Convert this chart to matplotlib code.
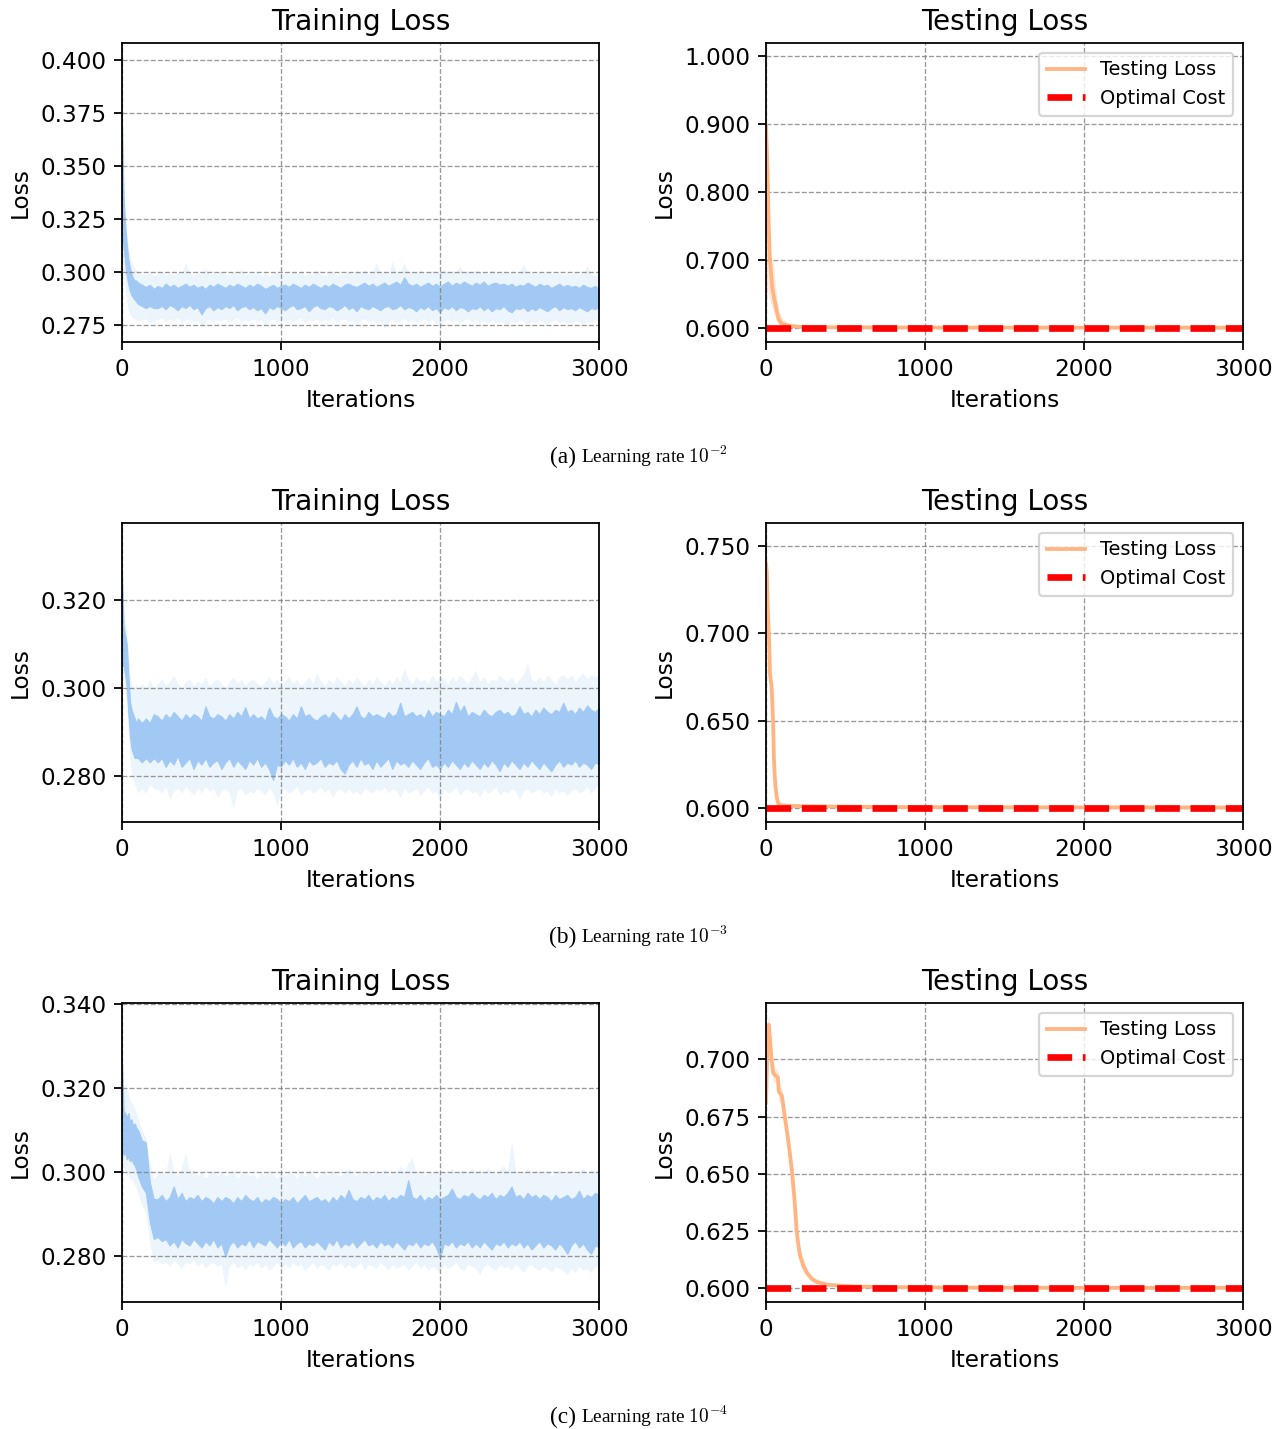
import matplotlib
matplotlib.use("Agg")
import matplotlib.pyplot as plt
from matplotlib.ticker import FormatStrFormatter

plt.rcParams["mathtext.fontset"] = "cm"
plt.rcParams["font.size"] = 10.4

# ---------------------------------------------------------------- data
# iteration grid for the training-loss envelopes
TRAIN_X = [0, 10, 20, 30, 40, 50, 60, 70, 80, 90, 100, 125, 150, 175, 200] + list(range(225, 3001, 25))

# --- learning rate 1e-2 : training loss (inner band = running loss, outer band = spread)
train_a_dark_lo = [0.318, 0.312, 0.304, 0.298, 0.294, 0.291, 0.289, 0.288, 0.287, 0.286, 0.285, 0.284, 0.283, 0.284, 0.283,
    0.2830, 0.2840, 0.2825, 0.2845, 0.2835, 0.2820, 0.2840, 0.2830,
    0.2845, 0.2825, 0.2835, 0.2800, 0.2830, 0.2840, 0.2820, 0.2835,
    0.2825, 0.2840, 0.2830, 0.2845, 0.2820, 0.2835, 0.2840, 0.2825,
    0.2835, 0.2820, 0.2830, 0.2805, 0.2835, 0.2825, 0.2840, 0.2830,
    0.2820, 0.2835, 0.2845, 0.2825, 0.2830, 0.2840, 0.2815, 0.2835,
    0.2845, 0.2830, 0.2825, 0.2840, 0.2835, 0.2820, 0.2830, 0.2845,
    0.2825, 0.2835, 0.2815, 0.2840, 0.2830, 0.2825, 0.2840, 0.2830,
    0.2820, 0.2835, 0.2840, 0.2825, 0.2830, 0.2845, 0.2825, 0.2835,
    0.2830, 0.2815, 0.2835, 0.2825, 0.2840, 0.2820, 0.2830, 0.2810,
    0.2835, 0.2825, 0.2840, 0.2820, 0.2835, 0.2830, 0.2815, 0.2830,
    0.2825, 0.2840, 0.2820, 0.2835, 0.2815, 0.2830, 0.2825, 0.2840,
    0.2820, 0.2810, 0.2830, 0.2825, 0.2835, 0.2815, 0.2830, 0.2820,
    0.2835, 0.2825, 0.2815, 0.2830, 0.2840, 0.2820, 0.2835, 0.2825,
    0.2830, 0.2820, 0.2835, 0.2825, 0.2815, 0.2830, 0.2825, 0.2835]
train_a_dark_hi = [0.370, 0.336, 0.322, 0.313, 0.306, 0.302, 0.299, 0.297, 0.296, 0.296, 0.295, 0.294, 0.293, 0.294, 0.292,
    0.2935, 0.2925, 0.2945, 0.2930, 0.2940, 0.2925, 0.2935, 0.2945,
    0.2930, 0.2940, 0.2925, 0.2935, 0.2920, 0.2940, 0.2930, 0.2945,
    0.2935, 0.2925, 0.2940, 0.2930, 0.2945, 0.2935, 0.2925, 0.2940,
    0.2930, 0.2945, 0.2935, 0.2920, 0.2930, 0.2940, 0.2925, 0.2935,
    0.2940, 0.2930, 0.2945, 0.2935, 0.2925, 0.2940, 0.2930, 0.2945,
    0.2935, 0.2925, 0.2940, 0.2930, 0.2945, 0.2935, 0.2925, 0.2940,
    0.2945, 0.2935, 0.2930, 0.2940, 0.2950, 0.2935, 0.2945, 0.2930,
    0.2940, 0.2950, 0.2935, 0.2945, 0.2955, 0.2940, 0.2975, 0.2945,
    0.2935, 0.2945, 0.2930, 0.2940, 0.2950, 0.2935, 0.2945, 0.2930,
    0.2945, 0.2955, 0.2935, 0.2950, 0.2940, 0.2955, 0.2945, 0.2935,
    0.2950, 0.2940, 0.2955, 0.2935, 0.2945, 0.2950, 0.2940, 0.2945,
    0.2935, 0.2945, 0.2930, 0.2940, 0.2935, 0.2950, 0.2940, 0.2930,
    0.2945, 0.2935, 0.2940, 0.2925, 0.2935, 0.2945, 0.2930, 0.2940,
    0.2930, 0.2935, 0.2925, 0.2940, 0.2930, 0.2925, 0.2935, 0.2920]
train_a_light_lo = [0.312, 0.300, 0.292, 0.286, 0.282, 0.280, 0.279, 0.278, 0.278, 0.277, 0.277, 0.277, 0.278, 0.276, 0.277,
    0.2775, 0.2785, 0.2765, 0.2780, 0.2770, 0.2785, 0.2760, 0.2775,
    0.2780, 0.2765, 0.2775, 0.2745, 0.2770, 0.2780, 0.2765, 0.2775,
    0.2770, 0.2780, 0.2760, 0.2775, 0.2785, 0.2765, 0.2775, 0.2770,
    0.2780, 0.2765, 0.2775, 0.2750, 0.2770, 0.2780, 0.2765, 0.2775,
    0.2770, 0.2780, 0.2765, 0.2775, 0.2785, 0.2760, 0.2775, 0.2770,
    0.2780, 0.2765, 0.2775, 0.2770, 0.2785, 0.2760, 0.2775, 0.2780,
    0.2765, 0.2775, 0.2755, 0.2770, 0.2780, 0.2765, 0.2775, 0.2760,
    0.2770, 0.2735, 0.2765, 0.2775, 0.2760, 0.2770, 0.2780, 0.2765,
    0.2775, 0.2760, 0.2770, 0.2780, 0.2765, 0.2775, 0.2760, 0.2755,
    0.2770, 0.2780, 0.2765, 0.2775, 0.2760, 0.2770, 0.2780, 0.2765,
    0.2775, 0.2760, 0.2770, 0.2755, 0.2775, 0.2765, 0.2770, 0.2760,
    0.2750, 0.2770, 0.2760, 0.2775, 0.2765, 0.2755, 0.2770, 0.2760,
    0.2775, 0.2765, 0.2755, 0.2770, 0.2775, 0.2760, 0.2770, 0.2765,
    0.2760, 0.2770, 0.2765, 0.2755, 0.2770, 0.2760, 0.2775, 0.2765]
train_a_light_hi = [0.372, 0.342, 0.328, 0.319, 0.312, 0.308, 0.305, 0.303, 0.302, 0.301, 0.300, 0.299, 0.299, 0.300, 0.298,
    0.2990, 0.3005, 0.2985, 0.2995, 0.2985, 0.3000, 0.2990, 0.3045,
    0.2995, 0.2985, 0.3000, 0.2990, 0.3020, 0.2985, 0.2995, 0.2990,
    0.3005, 0.2990, 0.2985, 0.3000, 0.2990, 0.3015, 0.2985, 0.2995,
    0.2990, 0.3000, 0.2985, 0.2995, 0.2980, 0.2995, 0.3000, 0.2985,
    0.2995, 0.2985, 0.3000, 0.2990, 0.3005, 0.2985, 0.2995, 0.2990,
    0.3010, 0.2990, 0.2985, 0.2995, 0.3000, 0.2985, 0.2995, 0.2990,
    0.3000, 0.2990, 0.3005, 0.2995, 0.3010, 0.2990, 0.3000, 0.3045,
    0.2995, 0.3005, 0.2990, 0.3050, 0.3000, 0.2995, 0.3045, 0.3000,
    0.3005, 0.2995, 0.3010, 0.2990, 0.3000, 0.3005, 0.2995, 0.3000,
    0.3015, 0.2995, 0.3005, 0.3000, 0.3030, 0.2995, 0.3005, 0.3000,
    0.3010, 0.2995, 0.3005, 0.2990, 0.3010, 0.3000, 0.2995, 0.3005,
    0.2995, 0.3005, 0.2990, 0.3000, 0.3040, 0.2995, 0.3000, 0.2990,
    0.3000, 0.2990, 0.3005, 0.2995, 0.2990, 0.3000, 0.2985, 0.2995,
    0.2990, 0.3000, 0.2985, 0.2995, 0.3030, 0.2990, 0.2985, 0.2995]

# --- learning rate 1e-3 : training loss
train_b_dark_lo = [0.305, 0.305, 0.303, 0.300, 0.294, 0.289, 0.286, 0.285, 0.284, 0.284, 0.284, 0.283, 0.284, 0.283, 0.284,
    0.2830, 0.2840, 0.2820, 0.2835, 0.2825, 0.2845, 0.2820, 0.2830,
    0.2840, 0.2815, 0.2835, 0.2825, 0.2840, 0.2820, 0.2830, 0.2835,
    0.2815, 0.2830, 0.2840, 0.2820, 0.2835, 0.2825, 0.2815, 0.2835,
    0.2825, 0.2840, 0.2820, 0.2830, 0.2815, 0.2790, 0.2825, 0.2820,
    0.2835, 0.2825, 0.2840, 0.2820, 0.2830, 0.2815, 0.2835, 0.2825,
    0.2830, 0.2840, 0.2820, 0.2830, 0.2825, 0.2835, 0.2815, 0.2805,
    0.2825, 0.2835, 0.2820, 0.2840, 0.2825, 0.2830, 0.2815, 0.2835,
    0.2820, 0.2830, 0.2840, 0.2815, 0.2835, 0.2825, 0.2830, 0.2820,
    0.2835, 0.2825, 0.2815, 0.2830, 0.2840, 0.2820, 0.2825, 0.2815,
    0.2830, 0.2820, 0.2835, 0.2825, 0.2815, 0.2830, 0.2820, 0.2835,
    0.2825, 0.2815, 0.2830, 0.2820, 0.2835, 0.2825, 0.2810, 0.2830,
    0.2820, 0.2835, 0.2825, 0.2815, 0.2830, 0.2820, 0.2835, 0.2825,
    0.2815, 0.2830, 0.2820, 0.2810, 0.2825, 0.2835, 0.2820, 0.2830,
    0.2825, 0.2835, 0.2820, 0.2830, 0.2825, 0.2815, 0.2830, 0.2825]
train_b_dark_hi = [0.326, 0.314, 0.312, 0.310, 0.303, 0.297, 0.295, 0.294, 0.293, 0.292, 0.293, 0.292, 0.293, 0.292, 0.294,
    0.2935, 0.2925, 0.2940, 0.2930, 0.2945, 0.2935, 0.2925, 0.2940,
    0.2930, 0.2940, 0.2935, 0.2925, 0.2958, 0.2935, 0.2930, 0.2940,
    0.2935, 0.2925, 0.2940, 0.2930, 0.2945, 0.2935, 0.2956, 0.2930,
    0.2940, 0.2930, 0.2935, 0.2925, 0.2955, 0.2935, 0.2930, 0.2940,
    0.2935, 0.2925, 0.2940, 0.2930, 0.2958, 0.2935, 0.2940, 0.2930,
    0.2925, 0.2935, 0.2940, 0.2930, 0.2945, 0.2935, 0.2925, 0.2940,
    0.2930, 0.2940, 0.2958, 0.2935, 0.2930, 0.2945, 0.2935, 0.2940,
    0.2935, 0.2930, 0.2945, 0.2935, 0.2940, 0.2966, 0.2935, 0.2940,
    0.2945, 0.2935, 0.2940, 0.2930, 0.2950, 0.2935, 0.2945, 0.2940,
    0.2935, 0.2950, 0.2940, 0.2968, 0.2945, 0.2960, 0.2935, 0.2945,
    0.2940, 0.2935, 0.2950, 0.2940, 0.2935, 0.2945, 0.2950, 0.2940,
    0.2945, 0.2935, 0.2940, 0.2958, 0.2940, 0.2945, 0.2935, 0.2950,
    0.2940, 0.2955, 0.2945, 0.2940, 0.2950, 0.2945, 0.2966, 0.2945,
    0.2950, 0.2940, 0.2955, 0.2945, 0.2960, 0.2950, 0.2945, 0.2955]
train_b_light_lo = [0.303, 0.302, 0.299, 0.296, 0.290, 0.284, 0.280, 0.279, 0.278, 0.277, 0.276, 0.277, 0.276, 0.278, 0.277,
    0.2770, 0.2760, 0.2775, 0.2745, 0.2765, 0.2770, 0.2760, 0.2775,
    0.2765, 0.2755, 0.2770, 0.2760, 0.2775, 0.2765, 0.2770, 0.2750,
    0.2765, 0.2770, 0.2760, 0.2725, 0.2765, 0.2770, 0.2755, 0.2765,
    0.2760, 0.2770, 0.2765, 0.2755, 0.2770, 0.2760, 0.2730, 0.2765,
    0.2770, 0.2760, 0.2765, 0.2775, 0.2755, 0.2765, 0.2770, 0.2760,
    0.2765, 0.2775, 0.2760, 0.2770, 0.2750, 0.2765, 0.2770, 0.2760,
    0.2770, 0.2760, 0.2765, 0.2755, 0.2770, 0.2765, 0.2760, 0.2770,
    0.2765, 0.2775, 0.2760, 0.2770, 0.2765, 0.2750, 0.2770, 0.2760,
    0.2765, 0.2770, 0.2755, 0.2765, 0.2775, 0.2760, 0.2765, 0.2745,
    0.2770, 0.2760, 0.2765, 0.2775, 0.2755, 0.2765, 0.2770, 0.2760,
    0.2765, 0.2750, 0.2770, 0.2760, 0.2765, 0.2775, 0.2755, 0.2765,
    0.2760, 0.2770, 0.2765, 0.2745, 0.2765, 0.2770, 0.2760, 0.2765,
    0.2770, 0.2760, 0.2765, 0.2750, 0.2770, 0.2760, 0.2765, 0.2755,
    0.2765, 0.2770, 0.2760, 0.2765, 0.2775, 0.2760, 0.2770, 0.2780]
train_b_light_hi = [0.327, 0.318, 0.315, 0.313, 0.308, 0.303, 0.301, 0.300, 0.300, 0.301, 0.300, 0.301, 0.300, 0.302, 0.300,
    0.3010, 0.3020, 0.3005, 0.3015, 0.3030, 0.3010, 0.3000, 0.3015,
    0.3020, 0.3005, 0.3015, 0.3010, 0.3025, 0.3005, 0.3015, 0.3020,
    0.3010, 0.3000, 0.3015, 0.3025, 0.3010, 0.3020, 0.3005, 0.3015,
    0.3020, 0.3010, 0.3005, 0.3015, 0.3025, 0.3010, 0.3020, 0.3005,
    0.3015, 0.3025, 0.3010, 0.3020, 0.3005, 0.3015, 0.3025, 0.3010,
    0.3035, 0.3015, 0.3005, 0.3020, 0.3010, 0.3025, 0.3015, 0.3005,
    0.3020, 0.3010, 0.3025, 0.3015, 0.3005, 0.3020, 0.3010, 0.3025,
    0.3015, 0.3005, 0.3020, 0.3010, 0.3025, 0.3015, 0.3045, 0.3020,
    0.3010, 0.3025, 0.3015, 0.3020, 0.3010, 0.3030, 0.3015, 0.3025,
    0.3020, 0.3010, 0.3025, 0.3015, 0.3030, 0.3020, 0.3010, 0.3025,
    0.3040, 0.3015, 0.3025, 0.3010, 0.3020, 0.3015, 0.3030, 0.3020,
    0.3015, 0.3025, 0.3010, 0.3020, 0.3030, 0.3057, 0.3020, 0.3015,
    0.3025, 0.3015, 0.3030, 0.3020, 0.3010, 0.3025, 0.3030, 0.3020,
    0.3030, 0.3015, 0.3025, 0.3035, 0.3020, 0.3030, 0.3025, 0.3030]

# --- learning rate 1e-4 : training loss
train_c_dark_lo = [0.3050, 0.3040, 0.3045, 0.3030, 0.3035, 0.3025, 0.3030, 0.3020, 0.3015, 0.3005, 0.2990, 0.2965, 0.2950, 0.2880, 0.2840,
    0.2845, 0.2835, 0.2840, 0.2825, 0.2835, 0.2820, 0.2840, 0.2830,
    0.2825, 0.2840, 0.2830, 0.2820, 0.2835, 0.2825, 0.2840, 0.2820,
    0.2830, 0.2798, 0.2825, 0.2835, 0.2820, 0.2830, 0.2825, 0.2840,
    0.2820, 0.2835, 0.2830, 0.2825, 0.2840, 0.2830, 0.2820, 0.2835,
    0.2825, 0.2840, 0.2820, 0.2830, 0.2835, 0.2820, 0.2830, 0.2825,
    0.2835, 0.2825, 0.2815, 0.2835, 0.2825, 0.2840, 0.2820, 0.2830,
    0.2825, 0.2835, 0.2820, 0.2830, 0.2840, 0.2825, 0.2830, 0.2820,
    0.2835, 0.2825, 0.2830, 0.2820, 0.2835, 0.2825, 0.2815, 0.2830,
    0.2825, 0.2835, 0.2820, 0.2830, 0.2825, 0.2835, 0.2820, 0.2794,
    0.2830, 0.2825, 0.2835, 0.2820, 0.2830, 0.2825, 0.2835, 0.2820,
    0.2830, 0.2820, 0.2835, 0.2825, 0.2815, 0.2830, 0.2825, 0.2835,
    0.2820, 0.2830, 0.2825, 0.2835, 0.2820, 0.2830, 0.2815, 0.2825,
    0.2835, 0.2820, 0.2830, 0.2825, 0.2815, 0.2830, 0.2820, 0.2805,
    0.2825, 0.2835, 0.2820, 0.2830, 0.2815, 0.2805, 0.2825, 0.2820]
train_c_dark_hi = [0.3265, 0.3145, 0.3140, 0.3130, 0.3140, 0.3120, 0.3125, 0.3110, 0.3115, 0.3105, 0.3100, 0.3075, 0.3070, 0.2975, 0.2935,
    0.2935, 0.2945, 0.2930, 0.2940, 0.2965, 0.2935, 0.2950, 0.2930,
    0.2940, 0.2935, 0.2945, 0.2930, 0.2940, 0.2935, 0.2925, 0.2940,
    0.2930, 0.2940, 0.2935, 0.2925, 0.2940, 0.2930, 0.2945, 0.2935,
    0.2930, 0.2940, 0.2925, 0.2935, 0.2930, 0.2940, 0.2935, 0.2925,
    0.2935, 0.2930, 0.2940, 0.2925, 0.2935, 0.2945, 0.2930, 0.2935,
    0.2940, 0.2930, 0.2935, 0.2925, 0.2940, 0.2930, 0.2945, 0.2935,
    0.2957, 0.2935, 0.2930, 0.2940, 0.2935, 0.2945, 0.2930, 0.2940,
    0.2935, 0.2945, 0.2930, 0.2940, 0.2935, 0.2945, 0.2940, 0.2980,
    0.2940, 0.2935, 0.2945, 0.2930, 0.2940, 0.2935, 0.2945, 0.2935,
    0.2940, 0.2945, 0.2960, 0.2940, 0.2935, 0.2945, 0.2940, 0.2950,
    0.2940, 0.2935, 0.2945, 0.2940, 0.2950, 0.2935, 0.2945, 0.2940,
    0.2950, 0.2965, 0.2940, 0.2945, 0.2935, 0.2950, 0.2940, 0.2945,
    0.2935, 0.2945, 0.2940, 0.2930, 0.2945, 0.2935, 0.2940, 0.2945,
    0.2935, 0.2940, 0.2955, 0.2935, 0.2945, 0.2940, 0.2950, 0.2945]
train_c_light_lo = [0.3020, 0.3010, 0.3000, 0.2990, 0.2995, 0.2980, 0.2985, 0.2975, 0.2970, 0.2960, 0.2950, 0.2920, 0.2900, 0.2830, 0.2785,
    0.2790, 0.2780, 0.2785, 0.2775, 0.2790, 0.2780, 0.2770, 0.2785,
    0.2780, 0.2790, 0.2775, 0.2785, 0.2770, 0.2780, 0.2785, 0.2775,
    0.2780, 0.2723, 0.2775, 0.2785, 0.2770, 0.2780, 0.2765, 0.2780,
    0.2775, 0.2785, 0.2770, 0.2780, 0.2765, 0.2775, 0.2785, 0.2770,
    0.2780, 0.2770, 0.2785, 0.2775, 0.2780, 0.2765, 0.2775, 0.2785,
    0.2770, 0.2780, 0.2775, 0.2765, 0.2780, 0.2775, 0.2785, 0.2770,
    0.2780, 0.2770, 0.2775, 0.2785, 0.2765, 0.2780, 0.2775, 0.2770,
    0.2785, 0.2775, 0.2765, 0.2780, 0.2770, 0.2775, 0.2780, 0.2765,
    0.2775, 0.2785, 0.2770, 0.2780, 0.2765, 0.2775, 0.2770, 0.2760,
    0.2780, 0.2770, 0.2775, 0.2785, 0.2770, 0.2765, 0.2780, 0.2775,
    0.2770, 0.2755, 0.2775, 0.2780, 0.2770, 0.2765, 0.2780, 0.2770,
    0.2775, 0.2765, 0.2780, 0.2770, 0.2760, 0.2775, 0.2780, 0.2770,
    0.2765, 0.2775, 0.2770, 0.2760, 0.2775, 0.2770, 0.2765, 0.2755,
    0.2770, 0.2760, 0.2775, 0.2765, 0.2770, 0.2760, 0.2775, 0.2770]
train_c_light_hi = [0.3270, 0.3200, 0.3210, 0.3195, 0.3185, 0.3170, 0.3165, 0.3160, 0.3150, 0.3140, 0.3130, 0.3100, 0.3080, 0.3020, 0.2985,
    0.2995, 0.3005, 0.2990, 0.3050, 0.3000, 0.2990, 0.3010, 0.3045,
    0.2995, 0.3005, 0.2990, 0.3000, 0.2985, 0.2995, 0.3005, 0.2990,
    0.3000, 0.2990, 0.2995, 0.3005, 0.2985, 0.2995, 0.3000, 0.2990,
    0.2995, 0.2985, 0.3000, 0.2990, 0.3005, 0.2995, 0.2985, 0.3000,
    0.2990, 0.3000, 0.2995, 0.2985, 0.3000, 0.2990, 0.3005, 0.2995,
    0.2985, 0.2995, 0.3000, 0.2990, 0.3005, 0.2995, 0.2990, 0.3000,
    0.3010, 0.2995, 0.2990, 0.3000, 0.2995, 0.3005, 0.2990, 0.3000,
    0.2995, 0.3010, 0.2990, 0.3000, 0.2995, 0.3015, 0.3000, 0.3020,
    0.3035, 0.2995, 0.3005, 0.2990, 0.3000, 0.2995, 0.3005, 0.2995,
    0.3000, 0.2995, 0.3010, 0.2995, 0.3000, 0.3005, 0.2995, 0.3010,
    0.3000, 0.3005, 0.2995, 0.3010, 0.3000, 0.2995, 0.3005, 0.3015,
    0.3000, 0.3075, 0.3005, 0.2995, 0.3000, 0.3010, 0.2995, 0.3005,
    0.3000, 0.2995, 0.3005, 0.2990, 0.3000, 0.3005, 0.2995, 0.3000,
    0.3005, 0.2995, 0.3000, 0.3010, 0.2995, 0.3005, 0.3000, 0.3005]

# --- testing loss curves (mean and spread band)
test_a_x = [0, 5, 10, 15, 20, 25, 30, 40, 50, 60, 70, 80, 100, 120, 150, 200, 300, 500, 1000, 2000, 3000]
test_a_y = [0.897, 0.860, 0.827, 0.770, 0.729, 0.700, 0.685, 0.658, 0.645, 0.634, 0.622, 0.612, 0.606, 0.604, 0.603,
            0.6015, 0.6010, 0.6006, 0.6003, 0.6002, 0.6002]
test_a_lo = [0.620, 0.640, 0.660, 0.650, 0.645, 0.640, 0.635, 0.628, 0.622, 0.615, 0.610, 0.605, 0.602, 0.6010, 0.6008,
             0.6005, 0.6003, 0.6002, 0.6001, 0.6001, 0.6001]
test_a_hi = [0.900, 0.880, 0.850, 0.800, 0.760, 0.720, 0.705, 0.700, 0.690, 0.660, 0.640, 0.625, 0.615, 0.610, 0.606,
             0.6030, 0.6015, 0.6010, 0.6005, 0.6003, 0.6003]

test_b_x = [0, 5, 10, 15, 20, 25, 30, 35, 40, 45, 50, 55, 60, 70, 80, 100, 150, 300, 500, 1000, 2000, 3000]
test_b_y = [0.740, 0.735, 0.718, 0.705, 0.695, 0.677, 0.673, 0.670, 0.660, 0.648, 0.628, 0.618, 0.612, 0.605, 0.602,
            0.6015, 0.6012, 0.6010, 0.6008, 0.6005, 0.6004, 0.6003]
test_b_lo = [0.736, 0.730, 0.713, 0.700, 0.690, 0.672, 0.669, 0.665, 0.654, 0.642, 0.623, 0.614, 0.609, 0.603, 0.601,
             0.6008, 0.6005, 0.6004, 0.6004, 0.6003, 0.6003, 0.6002]
test_b_hi = [0.742, 0.738, 0.722, 0.709, 0.699, 0.681, 0.677, 0.674, 0.665, 0.653, 0.633, 0.622, 0.615, 0.607, 0.6035,
             0.6025, 0.6020, 0.6015, 0.6010, 0.6007, 0.6005, 0.6004]

test_c_x = [0, 10, 18, 25, 35, 45, 60, 75, 80, 100, 110, 120, 135, 150, 165, 180, 193, 205, 216, 237, 260, 290, 320,
            390, 550, 800, 1200, 2000, 3000]
test_c_y = [0.681, 0.708, 0.715, 0.709, 0.700, 0.694, 0.693, 0.692, 0.686, 0.684, 0.679, 0.674, 0.667, 0.659, 0.650,
            0.638, 0.625, 0.618, 0.6138, 0.6095, 0.6065, 0.6040, 0.6028, 0.6015, 0.6008, 0.6005, 0.6003, 0.6002, 0.6002]
test_c_lo = [0.672, 0.700, 0.710, 0.704, 0.696, 0.690, 0.690, 0.689, 0.682, 0.680, 0.675, 0.670, 0.663, 0.655, 0.646,
             0.634, 0.621, 0.614, 0.610, 0.607, 0.605, 0.603, 0.602, 0.601, 0.6005, 0.6003, 0.6002, 0.6001, 0.6001]
test_c_hi = [0.690, 0.716, 0.719, 0.714, 0.704, 0.698, 0.696, 0.695, 0.690, 0.687, 0.683, 0.678, 0.671, 0.663, 0.654,
             0.642, 0.629, 0.622, 0.617, 0.612, 0.608, 0.605, 0.6035, 0.602, 0.6011, 0.6007, 0.6004, 0.6003, 0.6003]

OPTIMAL_COST = [0.6, 0.6, 0.6]
CAPTION_TAGS = ["(a)", "(b)", "(c)"]
CAPTION_TEXTS = ["Learning rate $10^{-2}$", "Learning rate $10^{-3}$", "Learning rate $10^{-4}$"]

# axis ranges and tick positions per row
TRAIN_YLIM = [(0.267, 0.408), (0.2694, 0.3376), (0.269, 0.3402)]
TRAIN_TICKS = [[0.275, 0.300, 0.325, 0.350, 0.375, 0.400], [0.280, 0.300, 0.320], [0.280, 0.300, 0.320, 0.340]]
TEST_YLIM = [(0.579, 1.019), (0.592, 0.7632), (0.594, 0.7246)]
TEST_TICKS = [[0.6, 0.7, 0.8, 0.9, 1.0], [0.60, 0.65, 0.70, 0.75], [0.600, 0.625, 0.650, 0.675, 0.700]]

train_rows = [
    (train_a_dark_lo, train_a_dark_hi, train_a_light_lo, train_a_light_hi),
    (train_b_dark_lo, train_b_dark_hi, train_b_light_lo, train_b_light_hi),
    (train_c_dark_lo, train_c_dark_hi, train_c_light_lo, train_c_light_hi),
]
test_rows = [
    (test_a_x, test_a_y, test_a_lo, test_a_hi),
    (test_b_x, test_b_y, test_b_lo, test_b_hi),
    (test_c_x, test_c_y, test_c_lo, test_c_hi),
]

BLUE = "#a1c9f4"
ORANGE = "#ffb482"

# ---------------------------------------------------------------- figure
W, H = 1283, 1429
DPI = 160
fig = plt.figure(figsize=(W / DPI, H / DPI), dpi=DPI)

col_left = [122, 766]
ax_w = 477
row_top = [43, 523, 1003]
ax_h = 299
caption_base = [463, 943, 1423]


def px_axes(left, top):
    return [left / W, 1 - (top + ax_h) / H, ax_w / W, ax_h / H]


def style(ax):
    ax.set_xlim(0, 3000)
    ax.set_xticks([0, 1000, 2000, 3000])
    ax.grid(True, linestyle="--", color="gray", linewidth=0.6, alpha=0.8)
    ax.set_xlabel("Iterations")
    ax.set_ylabel("Loss")
    ax.yaxis.set_major_formatter(FormatStrFormatter("%.3f"))


for r in range(3):
    # training panel
    ax = fig.add_axes(px_axes(col_left[0], row_top[r]))
    dlo, dhi, llo, lhi = train_rows[r]
    ax.fill_between(TRAIN_X, llo, lhi, color=BLUE, alpha=0.2, linewidth=0)
    ax.fill_between(TRAIN_X, dlo, dhi, color=BLUE, alpha=1.0, linewidth=0.5, edgecolor=BLUE)
    ax.set_ylim(*TRAIN_YLIM[r])
    ax.set_yticks(TRAIN_TICKS[r])
    ax.set_title("Training Loss")
    style(ax)

    # testing panel
    ax = fig.add_axes(px_axes(col_left[1], row_top[r]))
    tx, ty, tlo, thi = test_rows[r]
    ax.fill_between(tx, tlo, thi, color=ORANGE, alpha=0.3, linewidth=0)
    ax.plot(tx, ty, color=ORANGE, linewidth=1.7, label="Testing Loss")
    ax.axhline(OPTIMAL_COST[r], color="red", linestyle="--", linewidth=3, label="Optimal Cost")
    ax.set_ylim(*TEST_YLIM[r])
    ax.set_yticks(TEST_TICKS[r])
    ax.set_title("Testing Loss")
    style(ax)
    ax.legend(loc="upper right", fontsize="small")

    # sub-figure caption
    yb = 1 - caption_base[r] / H
    fig.text(576 / W, yb, CAPTION_TAGS[r], ha="right", va="baseline",
             family="Liberation Serif", fontsize=10.5)
    fig.text(581 / W, yb, CAPTION_TEXTS[r], ha="left", va="baseline",
             family="Liberation Serif", fontsize=8.7)

fig.savefig("out.png", dpi=DPI)
